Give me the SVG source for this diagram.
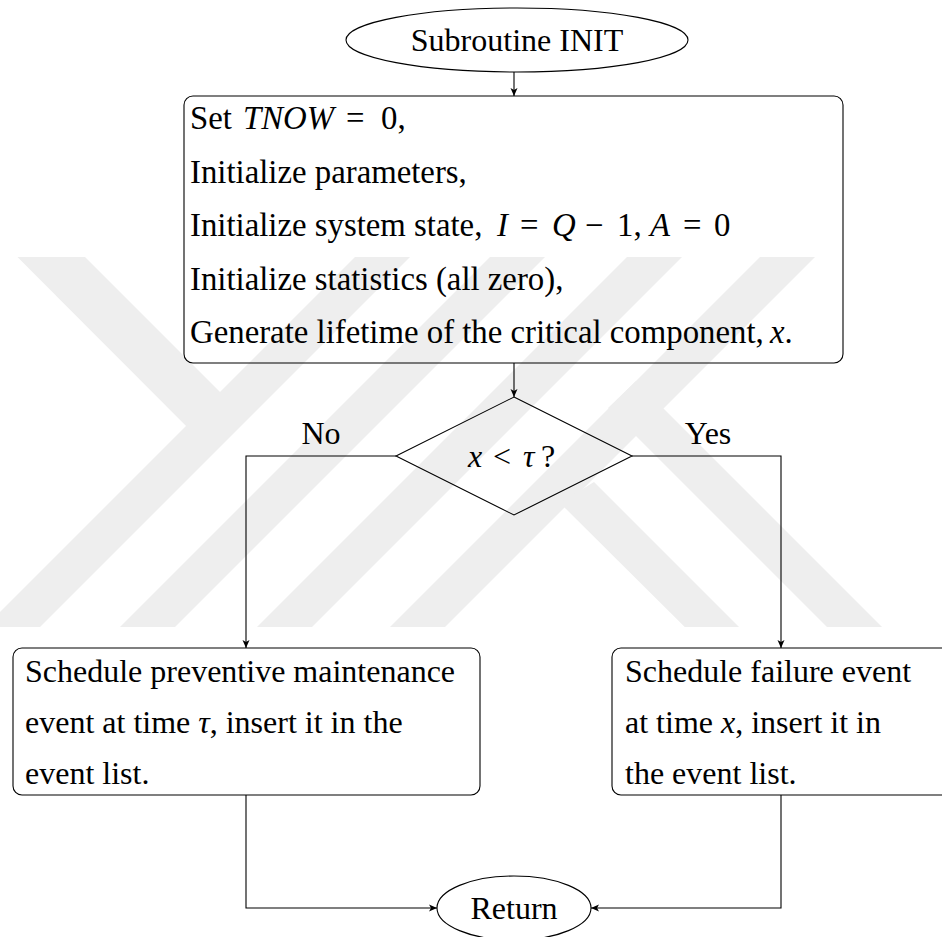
<svg xmlns="http://www.w3.org/2000/svg" width="942" height="937" viewBox="0 0 942 937">
<style>
.t{font-family:"Liberation Serif","Times New Roman",serif;font-size:32px;fill:#000}
.tb{font-size:32.8px}
.m{font-style:italic}
.s{fill:none;stroke:#000;stroke-width:1.1}
.c{fill:none;stroke:#000;stroke-width:1.1}
.wm{fill:#eeeeee}
</style>
<defs>
<marker id="ah" markerUnits="userSpaceOnUse" markerWidth="10" markerHeight="8" refX="8" refY="4" orient="auto">
<path d="M0,0.5 L8,4 L0,7.5 L2,4 z" fill="#000"/>
</marker>
<clipPath id="wclip"><rect x="0" y="257" width="942" height="370"/></clipPath>
</defs>
<rect width="942" height="937" fill="#fff"/>
<g id="watermark" clip-path="url(#wclip)">
<polygon class="wm" points="-239,0 -172,0 246,418 212,452"/>
<polygon class="wm" points="612,0 667,0 -333,1000 -388,1000"/>
<polygon class="wm" points="747,0 802,0 -198,1000 -253,1000"/>
<polygon class="wm" points="884,0 939,0 -61,1000 -116,1000"/>
<polygon class="wm" points="1017,0 1072,0 72,1000 17,1000"/>
<polygon class="wm" points="608,408 636,381 1255,1000 1200,1000"/>
<polygon class="wm" points="560,503 594,482 1112,1000 1060,1000"/>
</g>
<g id="start">
<ellipse class="s" cx="517" cy="40" rx="171" ry="32"/>
<text class="t" x="517" y="51" text-anchor="middle">Subroutine INIT</text>
</g>
<g id="init">
<rect class="s" x="184" y="96" width="659" height="267" rx="9"/>
<text class="t tb" y="129"><tspan x="190">Set</tspan><tspan class="m" x="243">TNOW</tspan><tspan x="346">=</tspan><tspan x="381">0,</tspan></text>
<text class="t tb" x="190" y="183">Initialize parameters,</text>
<text class="t tb" y="236"><tspan x="190">Initialize system state,</tspan><tspan class="m" x="497">I</tspan><tspan x="520">=</tspan><tspan class="m" x="552">Q</tspan><tspan x="585">−</tspan><tspan x="617">1,</tspan><tspan class="m" x="650">A</tspan><tspan x="683">=</tspan><tspan x="714">0</tspan></text>
<text class="t tb" x="190" y="290">Initialize statistics (all zero),</text>
<text class="t tb" y="343"><tspan x="190">Generate lifetime of the critical component,</tspan><tspan class="m" x="770">x</tspan><tspan>.</tspan></text>
</g>
<g id="decision">
<polygon class="s" points="514,397 632,456 514,515 396,456"/>
<text class="t" y="467"><tspan class="m" x="468">x</tspan><tspan x="493">&lt;</tspan><tspan class="m" x="523">τ</tspan><tspan x="541">?</tspan></text>
</g>
<g id="pm">
<rect class="s" x="13" y="648" width="467" height="147" rx="9"/>
<text class="t" x="25" y="682">Schedule preventive maintenance</text>
<text class="t" x="25" y="733">event at time <tspan class="m">τ</tspan>, insert it in the</text>
<text class="t" x="25" y="784">event list.</text>
</g>
<g id="fail">
<rect class="s" x="612" y="648" width="345" height="147" rx="9"/>
<text class="t" x="625" y="682">Schedule failure event</text>
<text class="t" x="625" y="733">at time <tspan class="m">x</tspan>, insert it in</text>
<text class="t" x="625" y="784">the event list.</text>
</g>
<g id="return">
<ellipse class="s" cx="514" cy="908" rx="77" ry="32"/>
<text class="t" x="514" y="919" text-anchor="middle">Return</text>
</g>
<g id="labels">
<text class="t" x="321" y="444" text-anchor="middle">No</text>
<text class="t" x="708" y="444" text-anchor="middle">Yes</text>
</g>
<g id="connectors">
<path class="c" d="M514,72 L514,96" marker-end="url(#ah)"/>
<path class="c" d="M514,363 L514,397" marker-end="url(#ah)"/>
<path class="c" d="M396,456 L246,456 L246,648" marker-end="url(#ah)"/>
<path class="c" d="M632,456 L781,456 L781,648" marker-end="url(#ah)"/>
<path class="c" d="M246,795 L246,908 L437,908" marker-end="url(#ah)"/>
<path class="c" d="M781,795 L781,908 L591,908" marker-end="url(#ah)"/>
</g>
</svg>
